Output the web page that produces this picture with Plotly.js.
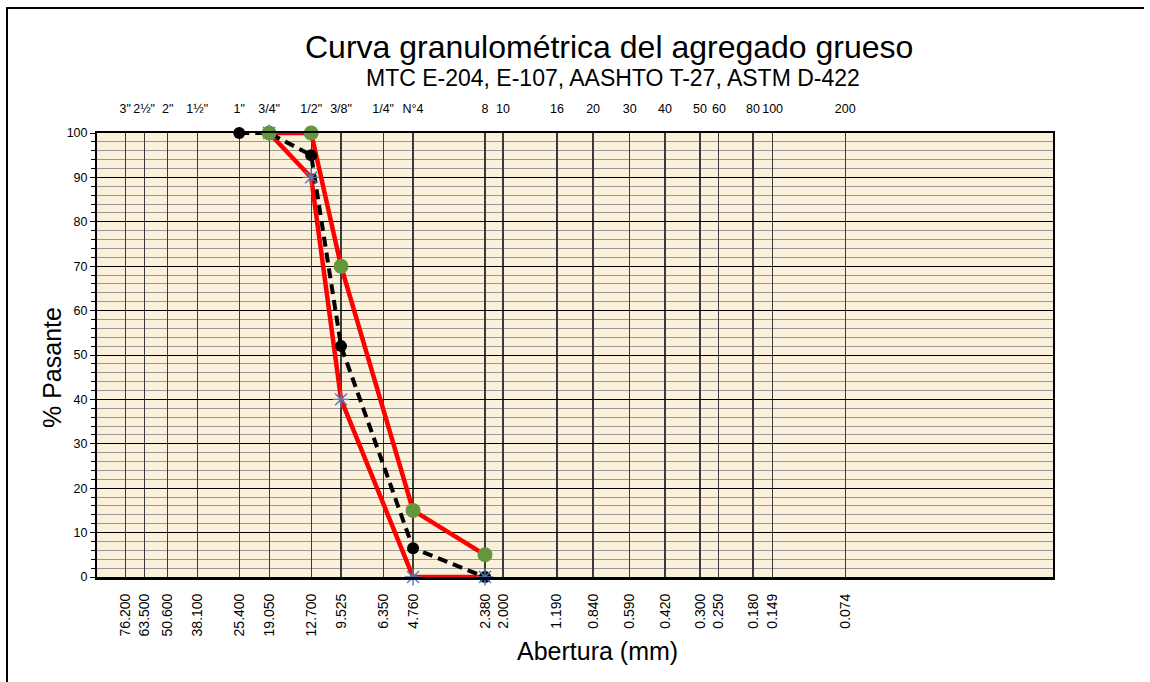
<!DOCTYPE html>
<html>
<head>
<meta charset="utf-8">
<script src="https://cdn.plot.ly/plotly-3.0.1.min.js"></script>
<style>html,body{margin:0;padding:0;background:#fff;}#chart{width:1150px;height:682px;}</style>
</head>
<body>
<div id="chart"></div>
<script>
// Sieve openings (mm) and their labels
const sieveSizes = [76.2, 63.5, 50.6, 38.1, 25.4, 19.05, 12.7, 9.525, 6.35, 4.76, 2.38, 2.0, 1.19, 0.84, 0.59, 0.42, 0.3, 0.25, 0.18, 0.149, 0.074];
const sieveMmLabels = ["76.200","63.500","50.600","38.100","25.400","19.050","12.700","9.525","6.350","4.760","2.380","2.000","1.190","0.840","0.590","0.420","0.300","0.250","0.180","0.149","0.074"];
const sieveNames = ['3"','2½"','2"','1½"','1"','3/4"','1/2"','3/8"','1/4"','N°4','8','10','16','20','30','40','50','60','80','100','200'];

// Specification limits (huso)
const limitSizes = [19.05, 12.7, 9.525, 4.76, 2.38];
const upperLimit = [100, 100, 70, 15, 5];
const lowerLimit = [100, 90, 40, 0, 0];

// Sample gradation
const sampleSizes = [25.4, 19.05, 12.7, 9.525, 4.76, 2.38];
const samplePassing = [100, 100, 95, 52, 6.5, 0];

const traces = [
  {x: limitSizes, y: lowerLimit, type: 'scatter', mode: 'lines', line: {color: '#ff0000', width: 4.5}, cliponaxis: false, hoverinfo: 'skip'},
  {x: limitSizes, y: upperLimit, type: 'scatter', mode: 'lines', line: {color: '#ff0000', width: 4.5}, cliponaxis: false, hoverinfo: 'skip'},
  {x: sampleSizes, y: samplePassing, type: 'scatter', mode: 'lines+markers', line: {color: '#000000', width: 4, dash: '10px,6px'}, marker: {color: '#000000', size: 12}, cliponaxis: false},
  {x: limitSizes, y: lowerLimit, type: 'scatter', mode: 'markers', marker: {symbol: 'asterisk-open', size: 14, color: '#4a7ebb', line: {color: '#4a7ebb', width: 1.4}}, cliponaxis: false},
  {x: limitSizes, y: upperLimit, type: 'scatter', mode: 'markers', marker: {color: '#64963c', size: 15}, cliponaxis: false},
  {x: [sieveSizes[0]], y: [null], xaxis: 'x2', type: 'scatter', mode: 'markers', hoverinfo: 'skip', showlegend: false}
];

const layout = {
  width: 1150, height: 682,
  margin: {l: 97, r: 97, t: 133, b: 105},
  paper_bgcolor: '#ffffff',
  plot_bgcolor: '#fbf0d9',
  showlegend: false,
  font: {family: 'Liberation Sans, Arial, sans-serif', color: '#000'},
  xaxis: {
    type: 'log', range: [2, -2], autorange: false,
    tickmode: 'array', tickvals: sieveSizes, ticktext: sieveMmLabels,
    tickangle: -90, tickfont: {size: 14},
    ticks: 'outside', ticklen: 8, tickcolor: 'rgba(0,0,0,0)',
    showgrid: true, gridcolor: '#3a3a3a', gridwidth: 1.2,
    showline: true, linecolor: '#000', linewidth: 3, zeroline: false
  },
  xaxis2: {
    type: 'log', range: [2, -2], autorange: false, overlaying: 'x', side: 'top', anchor: 'y',
    tickmode: 'array', tickvals: sieveSizes, ticktext: sieveNames,
    tickfont: {size: 12.5}, ticks: 'outside', ticklen: 13, tickcolor: 'rgba(0,0,0,0)',
    showgrid: false, showline: true, linecolor: '#000', linewidth: 2.5, zeroline: false
  },
  yaxis: {
    range: [0, 100], autorange: false,
    tickmode: 'linear', tick0: 0, dtick: 10, tickfont: {size: 12.5},
    ticks: 'outside', ticklen: 5, tickcolor: '#000', tickwidth: 1,
    showgrid: true, gridcolor: '#000000', gridwidth: 1,
    minor: {dtick: 2, showgrid: true, gridcolor: '#999999', gridwidth: 1, ticks: 'outside', ticklen: 4, tickcolor: '#000'},
    showline: true, linecolor: '#000', linewidth: 2, mirror: true, zeroline: false
  },
  annotations: [
    {text: 'Curva granulométrica del agregado grueso', font: {size: 32}},
    {text: 'MTC E-204, E-107, AASHTO T-27, ASTM D-422', font: {size: 23}},
    {text: '% Pasante', textangle: -90, font: {size: 25}},
    {text: 'Abertura (mm)', font: {size: 25}}
  ]
};

// Position annotations in pixel terms relative to plot area
const plotW = 1150 - 97 - 97, plotH = 682 - 133 - 105;
function px(x) { return (x - 97) / plotW; }
function py(y) { return (682 - 105 - y) / plotH; }
const annPos = [[609, 47], [613, 78], [52, 368], [597, 651]];
layout.annotations.forEach((a, i) => {
  Object.assign(a, {xref: 'paper', yref: 'paper', x: px(annPos[i][0]), y: py(annPos[i][1]), xanchor: 'center', yanchor: 'middle', showarrow: false});
});
layout.shapes = [
  {type: 'line', xref: 'paper', yref: 'paper', x0: px(6), x1: px(1144), y0: py(8), y1: py(8), line: {color: '#000', width: 2}},
  {type: 'line', xref: 'paper', yref: 'paper', x0: px(7), x1: px(7), y0: py(7), y1: py(682), line: {color: '#000', width: 2}}
];

Plotly.newPlot('chart', traces, layout, {displayModeBar: false, staticPlot: true});
</script>
</body>
</html>
